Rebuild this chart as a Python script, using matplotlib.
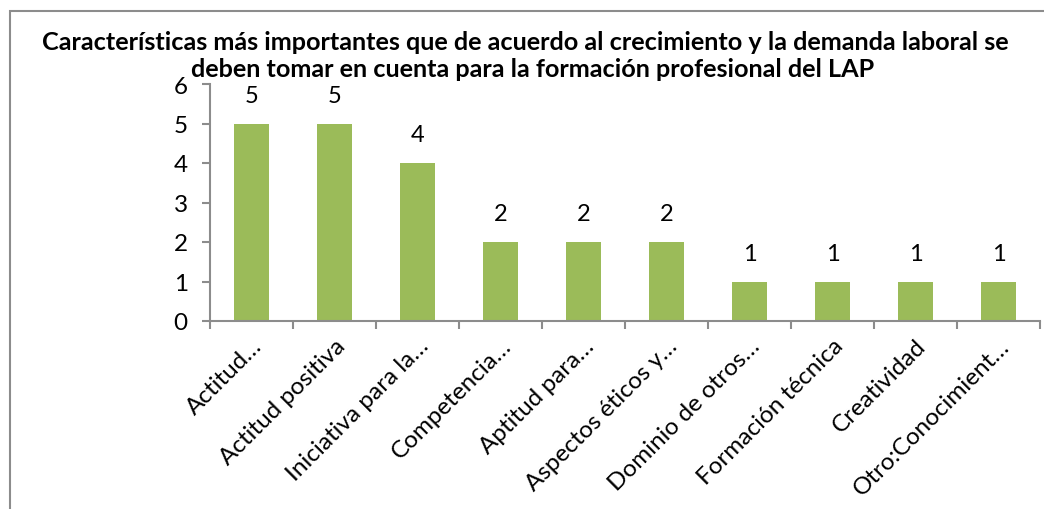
import numpy as np
import matplotlib.pyplot as plt
from matplotlib.patches import Rectangle

plt.rcParams['font.family'] = ['Lato', 'DejaVu Sans']

categorias = ['Actitud…', 'Actitud positiva', 'Iniciativa para la…', 'Competencia…',
              'Aptitud para…', 'Aspectos éticos y…', 'Dominio de otros…',
              'Formación técnica', 'Creatividad', 'Otro:Conocimient…']
valores = [5, 5, 4, 2, 2, 2, 1, 1, 1, 1]
titulo_1 = 'Características más importantes que de acuerdo al crecimiento y la demanda laboral se'
titulo_2 = 'deben tomar en cuenta para la formación profesional del LAP'

W, H = 1044, 510
fig = plt.figure(figsize=(W / 100, H / 100), dpi=100)

# marco gris del gráfico
fig.patches.append(Rectangle((10 / W, -0.1), 1.2, (H - 12) / H + 0.1, transform=fig.transFigure,
                             fill=False, edgecolor='#8c8c8c', linewidth=1.5))

ax = fig.add_axes([210 / W, (H - 322) / H, 830 / W, (322 - 85) / H])
x = np.arange(len(valores))
barras = ax.bar(x + 0.5, valores, width=0.41, color='#9bbb59')
for b, v in zip(barras, valores):
    ax.text(b.get_x() + b.get_width() / 2, v + 0.45, str(v), ha='center', va='bottom', fontsize=17)

ax.set_xlim(0, len(valores))
ax.set_ylim(0, 6)
ax.set_yticks(range(7))
ax.set_xticks(range(len(valores) + 1))
ax.set_xticklabels([])
ax.set_xticks(x + 0.5, minor=True)
ax.set_xticklabels(categorias, minor=True, rotation=45, ha='right', rotation_mode='anchor', fontsize=17.5)
ax.tick_params(axis='x', which='minor', length=0, pad=10)
ax.tick_params(axis='both', which='major', length=6, color='#8c8c8c', width=1.5)
ax.tick_params(axis='y', labelsize=17.5, pad=10)
for s in ['top', 'right']:
    ax.spines[s].set_visible(False)
for s in ['left', 'bottom']:
    ax.spines[s].set_color('#8c8c8c')
    ax.spines[s].set_linewidth(1.5)

fig.text(525 / W, 1 - 43 / H, titulo_1, ha='center', va='center', fontsize=18.2, fontweight='bold')
fig.text(533 / W, 1 - 70 / H, titulo_2, ha='center', va='center', fontsize=18.2, fontweight='bold')

fig.savefig('out.png', dpi=100)
